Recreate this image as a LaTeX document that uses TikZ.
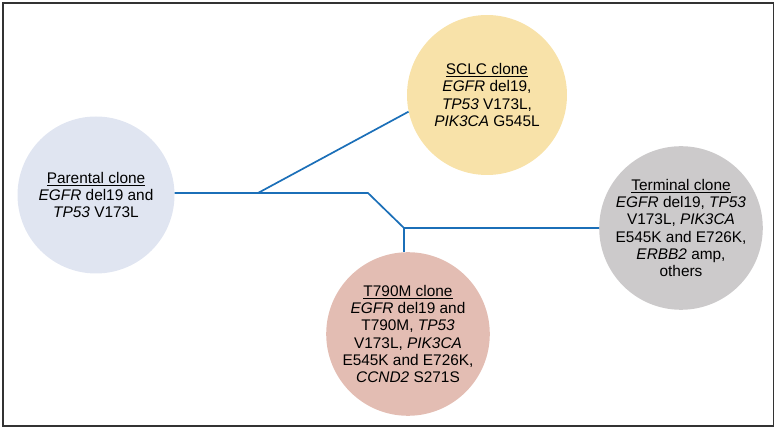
\documentclass[tikz,border=0pt]{standalone}
\usepackage{fontspec}
\setmainfont{Liberation Sans}
\definecolor{linkblue}{HTML}{1B6FB8}
\definecolor{parfill}{HTML}{E0E5F1}
\definecolor{sclcfill}{HTML}{F8E2A9}
\definecolor{termfill}{HTML}{CCCACB}
\definecolor{tfill}{HTML}{E3BDB3}
\begin{document}
\begin{tikzpicture}[x=1pt,y=-1pt,
  clone/.style={circle, minimum size=#1, inner sep=0pt, align=center,
    font=\fontsize{15.4}{17.3}\selectfont},
  link/.style={draw=linkblue, line width=1.7pt}]
\useasboundingbox (0,0) rectangle (777,430);
\draw[line width=1.3pt, black!80] (3,3) rectangle (773.5,426);
\node[clone=157, fill=parfill] (par) at (96,195)
  {\underline{Parental clone}\\ \textit{EGFR} del19 and\\ \textit{TP53} V173L};
\node[clone=160, fill=sclcfill] (sclc) at (487,95)
  {\underline{SCLC clone}\\ \textit{EGFR} del19,\\ \textit{TP53} V173L,\\ \textit{PIK3CA} G545L};
\node[clone=160, fill=termfill] (term) at (681,228)
  {\underline{Terminal clone}\\ \textit{EGFR} del19, \textit{TP53}\\ V173L, \textit{PIK3CA}\\ E545K and E726K,\\ \textit{ERBB2} amp,\\ others};
\node[clone=158, fill=tfill] (t790) at (408,334)
  {\underline{T790M clone}\\ \textit{EGFR} del19 and\\ T790M, \textit{TP53}\\ V173L, \textit{PIK3CA}\\ E545K and E726K,\\ \textit{CCND2} S271S};
\coordinate (b1) at (258,193);
\coordinate (b2) at (368,193);
\coordinate (b3) at (404,228);
\draw[link] (par.east |- b1) -- (b1) -- (b2) -- (b3) -- (b3 -| term.west);
\draw[link] (b1) -- (sclc.192);
\draw[link] (b3) -- (b3 |- t790.north);
\end{tikzpicture}
\end{document}
